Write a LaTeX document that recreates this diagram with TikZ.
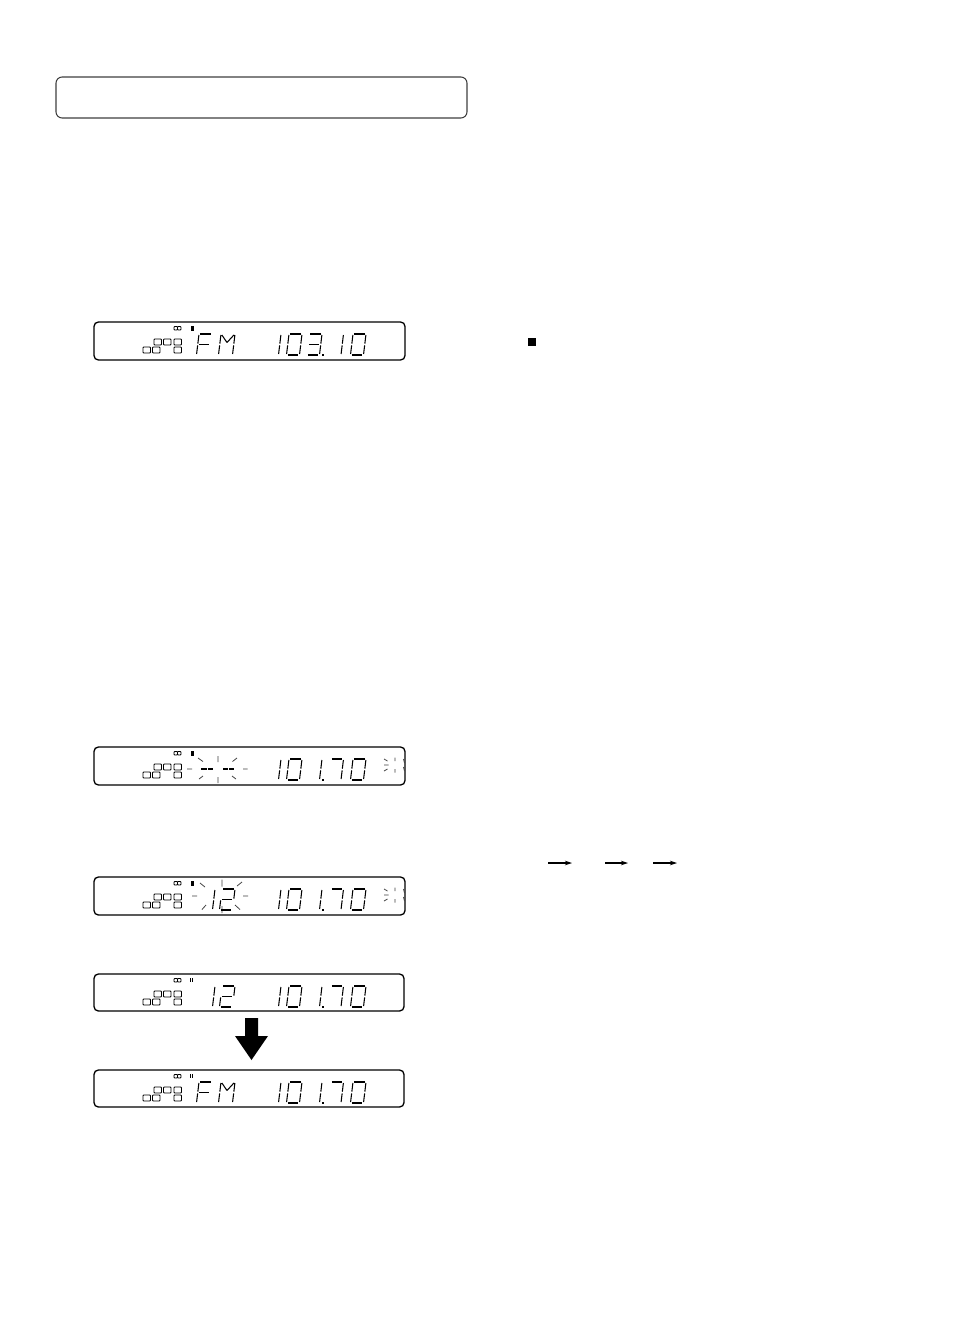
\documentclass[tikz,border=0pt]{standalone}
\usetikzlibrary{arrows.meta}
\tikzset{
  sg/.style={line width=0.6pt, black},
  lcd/.style={draw=black, line width=0.75pt, rounded corners=2.5pt},
  ico/.style={draw=black, line width=0.5pt, rounded corners=0.4pt},
  ray/.style={line width=0.45pt, black!75},
  titlebox/.style={draw=black!75, line width=0.6pt, rounded corners=3.5pt},
  smallarrow/.style={line width=0.6pt, -{Stealth[length=4pt,width=2.6pt]}},
}
% seven segment pieces (local units: w=13, h=21)
\newcommand\SA{\draw[sg] (1.3,0)--(11.7,0);}
\newcommand\SB{\draw[sg] (13,1)--(13,9.7);}
\newcommand\SC{\draw[sg] (13,11.3)--(13,20);}
\newcommand\SD{\draw[sg] (1.3,21)--(11.7,21);}
\newcommand\SE{\draw[sg] (0,11.3)--(0,20);}
\newcommand\SF{\draw[sg] (0,1)--(0,9.7);}
\newcommand\SG{\draw[sg] (1.3,10.5)--(11.7,10.5);}
\newcommand\dZero{\SA\SB\SC\SD\SE\SF}
\newcommand\dOne{\SB\SC}
\newcommand\dTwo{\SA\SB\SG\SE\SD}
\newcommand\dThree{\SA\SB\SG\SC\SD}
\newcommand\dSeven{\SA\SB\SC}
\newcommand\dEff{\SA\SF\SE\SG}
\newcommand\dEm{\draw[sg] (0,1)--(0,9.7) (0,11.3)--(0,20) (14,1)--(14,9.7) (14,11.3)--(14,20)
  (1,1)--(7,8.5) (13,1)--(7,8.5);}
\newcommand\dgt[3]{\begin{scope}[shift={(#1,#2)},xslant=0.12]#3\end{scope}}
% display icons
\newcommand\lcdicons[1]{%
  \draw[ico] (174,#1+4.5) rectangle (177.5,#1+8);
  \draw[ico] (177.5,#1+4.5) rectangle (181,#1+8);
  \draw[ico] (154,#1+17) rectangle (161.5,#1+23);
  \draw[ico] (163.5,#1+17) rectangle (171,#1+23);
  \draw[ico] (174,#1+17) rectangle (181.5,#1+23);
  \draw[ico] (143,#1+25) rectangle (150.5,#1+31);
  \draw[ico] (152.5,#1+25) rectangle (160,#1+31);
  \draw[ico] (174,#1+25) rectangle (181.5,#1+31);}
\newcommand\playmark[1]{\fill[black] (191,#1+4) rectangle (193.5,#1+8.5);}
\newcommand\pausemark[1]{\draw[line width=0.5pt] (190.5,#1+4)--(190.5,#1+8) (192.8,#1+4)--(192.8,#1+8);}
\newcommand\freqA[1]{% 101.70
  \dgt{268}{#1+12}{\dOne}
  \dgt{289}{#1+12}{\dZero}
  \dgt{309}{#1+12}{\dOne}
  \fill[black] (322.3,#1+31.8) rectangle (324.1,#1+33.6);
  \dgt{330.5}{#1+12}{\dSeven}
  \dgt{353}{#1+12}{\dZero}}
\newcommand\sideburst[1]{%
  \draw[ray] (384,#1+12)--(387.5,#1+14) (384,#1+18)--(388.5,#1+18) (384,#1+24)--(387.5,#1+22)
    (395,#1+10.5)--(395,#1+14) (395,#1+22)--(395,#1+25.5)
    (403.5,#1+12)--(404.5,#1+16) (403.5,#1+20)--(404.5,#1+24);}
\begin{document}
\begin{tikzpicture}[x=0.02cm,y=-0.02cm]
\useasboundingbox (0,0) rectangle (954,1325);
\fill[white] (0,0) rectangle (954,1325);

% title box
\draw[titlebox] (56,77) rectangle (467,118);

% display 1: FM 103.10
\draw[lcd] (94,322) rectangle (405,360);
\lcdicons{322}\playmark{322}
\dgt{199}{334}{\dEff}
\dgt{221}{334}{\dEm}
\dgt{268}{334}{\dOne}
\dgt{289}{334}{\dZero}
\dgt{309}{334}{\dThree}
\fill[black] (322.3,353.8) rectangle (324.1,355.6);
\dgt{330.5}{334}{\dOne}
\dgt{353}{334}{\dZero}

% stop mark
\fill[black] (528,338) rectangle (536,346);

% display 2: -- -- 101.70 flashing
\draw[lcd] (94,747) rectangle (405,785);
\lcdicons{747}\playmark{747}
\draw[ray] (187,769)--(192,769) (243,769)--(247.5,769)
  (198,758)--(203,761.5) (218,756)--(218,762) (237,758)--(232.5,761.5)
  (199,779)--(203,776) (218,777)--(218,783) (232,776)--(236,779);
\draw[line width=0.8pt] (201,769)--(206.5,769) (207.5,769)--(213,769)
  (223,769)--(228,769) (229,769)--(234,769);
\freqA{747}
\sideburst{747}

% display 3: - 12 - 101.70 flashing
\draw[lcd] (94,877) rectangle (405,915);
\lcdicons{877}\playmark{877}
\draw[ray] (192,896)--(197,896) (243,896)--(248,896)
  (200,883)--(205,887) (222,879.5)--(222,886.5) (242,882)--(237,886)
  (206,905)--(202,909.5) (222,906)--(222,913) (235,905)--(240,909.5);
\dgt{202}{889}{\dOne}
\dgt{222}{889}{\dTwo}
\freqA{877}
\sideburst{877}

% display 4: 12 101.70
\draw[lcd] (94,974) rectangle (404,1011);
\lcdicons{974}\pausemark{974}
\dgt{202}{986}{\dOne}
\dgt{222}{986}{\dTwo}
\freqA{974}

% big arrow
\fill[black] (245,1018) -- (258,1018) -- (258,1036) -- (268,1036) -- (251.5,1060)
  -- (235,1036) -- (245,1036) -- cycle;

% display 5: FM 101.70
\draw[lcd] (94,1070) rectangle (404,1107);
\lcdicons{1070}\pausemark{1070}
\dgt{199}{1082}{\dEff}
\dgt{221}{1082}{\dEm}
\freqA{1070}

% sequence arrows
\coordinate (s1) at (548,863);
\coordinate (e1) at (572,863);
\coordinate (s2) at (605,863);
\coordinate (e2) at (628,863);
\coordinate (s3) at (653,863);
\coordinate (e3) at (677,863);
\draw[smallarrow] (s1) -- (e1);
\draw[smallarrow] (s2) -- (e2);
\draw[smallarrow] (s3) -- (e3);
\end{tikzpicture}
\end{document}
